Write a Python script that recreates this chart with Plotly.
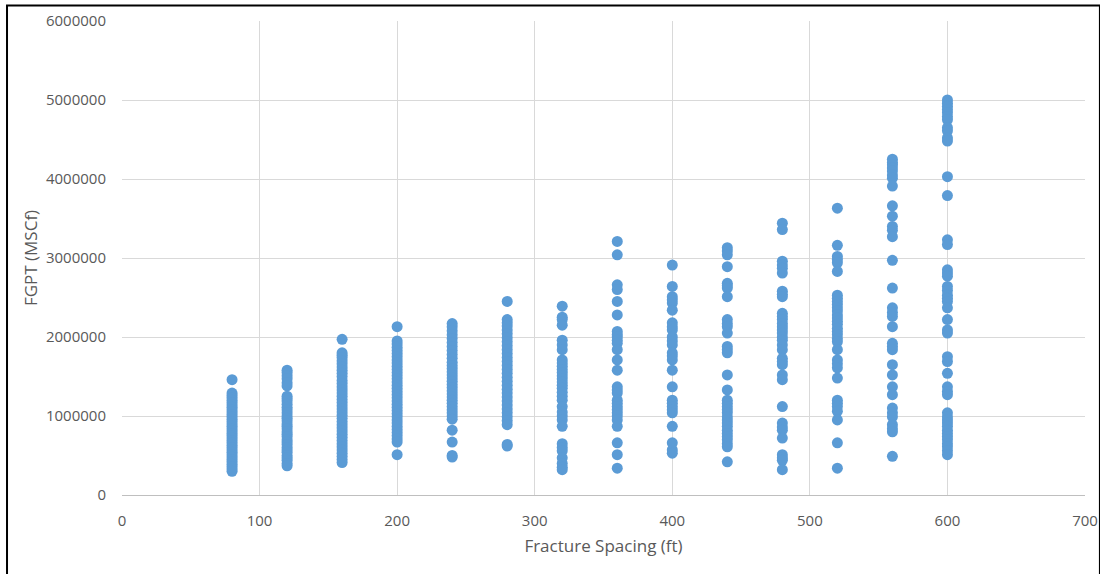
import plotly.graph_objects as go

spacing_ft = [80, 120, 160, 200, 240, 280, 320, 360, 400, 440, 480, 520, 560, 600]

fgpt_80 = [1460000, 1290000, 1260000, 1230000, 1200000, 1170000, 1140000, 1110000, 1080000,
           1050000, 1020000, 990000, 960000, 930000, 900000, 870000, 840000, 810000, 780000,
           750000, 720000, 690000, 660000, 630000, 600000, 570000, 540000, 510000, 480000,
           450000, 420000, 390000, 360000, 330000, 300000]
fgpt_120 = [1580000, 1550000, 1510000, 1470000, 1420000, 1380000, 1250000, 1220000, 1190000,
            1150000, 1110000, 1080000, 1040000, 1000000, 970000, 940000, 900000, 870000,
            840000, 800000, 770000, 740000, 700000, 670000, 640000, 600000, 570000, 540000,
            500000, 470000, 440000, 400000, 370000]
fgpt_160 = [1970000, 1800000, 1770000, 1740000, 1700000, 1660000, 1620000, 1580000, 1540000,
            1500000, 1450000, 1410000, 1370000, 1330000, 1290000, 1250000, 1210000, 1170000,
            1130000, 1090000, 1050000, 1010000, 970000, 930000, 890000, 850000, 810000,
            770000, 730000, 690000, 650000, 610000, 570000, 530000, 490000, 450000, 410000]
fgpt_200 = [2130000, 1950000, 1910000, 1870000, 1830000, 1790000, 1750000, 1710000, 1670000,
            1630000, 1590000, 1550000, 1510000, 1470000, 1430000, 1390000, 1350000, 1310000,
            1270000, 1230000, 1190000, 1150000, 1110000, 1070000, 1030000, 990000, 950000,
            910000, 870000, 830000, 790000, 750000, 710000, 670000, 510000]
fgpt_240 = [2170000, 2130000, 2080000, 2030000, 1980000, 1930000, 1880000, 1830000, 1780000,
            1730000, 1680000, 1640000, 1600000, 1560000, 1520000, 1480000, 1440000, 1400000,
            1360000, 1320000, 1280000, 1240000, 1200000, 1160000, 1120000, 1080000, 1040000,
            1000000, 960000, 820000, 670000, 500000, 480000]
fgpt_280 = [2450000, 2220000, 2180000, 2140000, 2090000, 2040000, 1990000, 1940000, 1890000,
            1840000, 1790000, 1740000, 1690000, 1640000, 1590000, 1540000, 1490000, 1440000,
            1390000, 1340000, 1290000, 1240000, 1190000, 1140000, 1090000, 1040000, 990000,
            940000, 890000, 640000, 620000]
fgpt_320 = [2390000, 2250000, 2220000, 2150000, 1960000, 1900000, 1840000, 1710000, 1670000,
            1630000, 1590000, 1550000, 1510000, 1470000, 1430000, 1390000, 1350000, 1300000,
            1250000, 1200000, 1120000, 1050000, 1000000, 950000, 870000, 650000, 600000,
            560000, 470000, 400000, 350000, 320000]
fgpt_360 = [3210000, 3040000, 2660000, 2600000, 2450000, 2280000, 2070000, 2030000, 2000000,
            1960000, 1920000, 1840000, 1710000, 1580000, 1370000, 1330000, 1290000, 1200000,
            1160000, 1120000, 1080000, 1040000, 1000000, 950000, 870000, 660000, 510000, 340000]
fgpt_400 = [2910000, 2640000, 2510000, 2470000, 2430000, 2340000, 2180000, 2130000, 2090000,
            2000000, 1950000, 1900000, 1800000, 1760000, 1710000, 1580000, 1370000, 1200000,
            1160000, 1120000, 1080000, 1040000, 870000, 660000, 570000, 530000]
fgpt_440 = [3130000, 3090000, 3040000, 2890000, 2680000, 2650000, 2620000, 2510000, 2220000,
            2170000, 2130000, 2050000, 1880000, 1840000, 1800000, 1520000, 1330000, 1200000,
            1160000, 1120000, 1080000, 1040000, 990000, 950000, 910000, 870000, 820000,
            780000, 740000, 700000, 650000, 610000, 420000]
fgpt_480 = [3440000, 3360000, 2960000, 2910000, 2870000, 2810000, 2580000, 2540000, 2510000,
            2300000, 2260000, 2220000, 2170000, 2130000, 2090000, 2050000, 2000000, 1960000,
            1900000, 1840000, 1730000, 1690000, 1650000, 1520000, 1460000, 1120000, 910000,
            860000, 820000, 720000, 510000, 470000, 440000, 320000]
fgpt_520 = [3630000, 3160000, 3020000, 2980000, 2940000, 2830000, 2530000, 2490000, 2450000,
            2410000, 2370000, 2330000, 2280000, 2240000, 2200000, 2160000, 2110000, 2070000,
            2030000, 1980000, 1940000, 1840000, 1710000, 1660000, 1610000, 1480000, 1200000,
            1160000, 1120000, 1060000, 950000, 660000, 340000]
fgpt_560 = [4250000, 4210000, 4180000, 4140000, 4100000, 4050000, 4010000, 3910000, 3660000,
            3530000, 3400000, 3350000, 3270000, 2970000, 2620000, 2370000, 2310000, 2260000,
            2130000, 1920000, 1880000, 1840000, 1650000, 1520000, 1370000, 1270000, 1100000,
            1040000, 990000, 890000, 840000, 800000, 490000]
fgpt_600 = [5000000, 4960000, 4920000, 4880000, 4840000, 4790000, 4750000, 4650000, 4610000,
            4520000, 4480000, 4030000, 3790000, 3230000, 3170000, 2850000, 2810000, 2770000,
            2640000, 2590000, 2530000, 2490000, 2450000, 2370000, 2220000, 2090000, 2050000,
            1750000, 1690000, 1540000, 1370000, 1310000, 1270000, 1040000, 990000, 950000,
            910000, 870000, 820000, 780000, 740000, 700000, 650000, 610000, 560000, 510000]

fgpt_by_spacing = [fgpt_80, fgpt_120, fgpt_160, fgpt_200, fgpt_240, fgpt_280, fgpt_320,
                   fgpt_360, fgpt_400, fgpt_440, fgpt_480, fgpt_520, fgpt_560, fgpt_600]

x_vals, y_vals = [], []
for s, vals in zip(spacing_ft, fgpt_by_spacing):
    x_vals += [s] * len(vals)
    y_vals += vals

x_ticks = [0, 100, 200, 300, 400, 500, 600, 700]
y_ticks = [0, 1000000, 2000000, 3000000, 4000000, 5000000, 6000000]

fig = go.Figure()
fig.add_trace(go.Scatter(
    x=x_vals, y=y_vals, mode="markers",
    marker=dict(size=11, color="#5B9BD5", line=dict(width=0)),
    showlegend=False, hoverinfo="x+y",
))

tick_font = dict(family="Open Sans, Liberation Sans, sans-serif", size=15, color="#595959")
title_font = dict(family="Open Sans, Liberation Sans, sans-serif", size=17, color="#595959")

fig.update_layout(
    width=1100, height=574,
    margin=dict(l=122, r=15, t=21, b=79),
    paper_bgcolor="white", plot_bgcolor="white",
    font=tick_font,
    xaxis=dict(
        range=[0, 700], tickvals=x_ticks, ticktext=[str(v) for v in x_ticks],
        tickfont=tick_font,
        showgrid=True, gridcolor="#D9D9D9", gridwidth=1.3,
        zeroline=False, showline=True, linecolor="#BFBFBF", linewidth=1.3,
        ticks="outside", ticklen=12, tickcolor="rgba(0,0,0,0)",
        title=dict(text="Fracture Spacing (ft)", standoff=10, font=title_font),
        automargin=False,
    ),
    yaxis=dict(
        range=[0, 6000000], tickvals=y_ticks, ticktext=[str(v) for v in y_ticks],
        tickfont=tick_font,
        showgrid=True, gridcolor="#D9D9D9", gridwidth=1.3,
        zeroline=False, showline=False,
        ticks="outside", ticklen=12, tickcolor="rgba(0,0,0,0)",
        title=dict(text="FGPT (MSCf)", standoff=4, font=title_font),
        automargin=False,
    ),
    shapes=[dict(type="rect", xref="paper", yref="paper",
                 x0=-0.1194, x1=1.0155, y0=-0.17, y1=1.0327,
                 line=dict(color="black", width=2), fillcolor="rgba(0,0,0,0)")],
)

fig.write_html("out.html")
